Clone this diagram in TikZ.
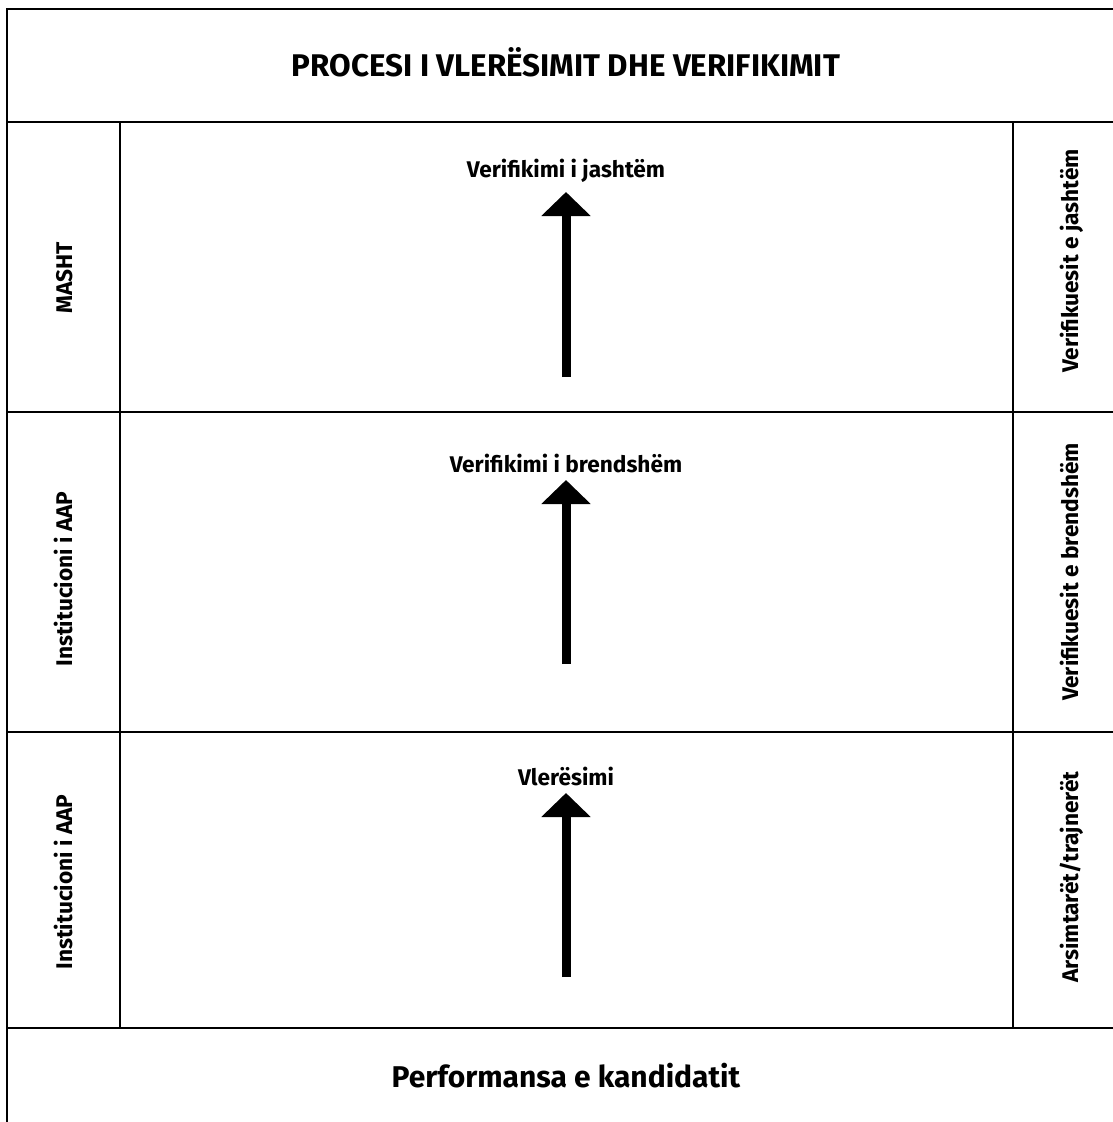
\documentclass[tikz,border=0pt]{standalone}
\usepackage{fontspec}
\setmainfont{Fira Sans}
\usetikzlibrary{arrows.meta}
\tikzstyle{frame} = [line width=1.3pt]
\tikzstyle{heading} = [font=\bfseries\fontsize{23.5}{28}\selectfont, anchor=base]
\tikzstyle{level} = [font=\bfseries\fontsize{17}{20}\selectfont, anchor=base]
\tikzstyle{side} = [font=\bfseries\fontsize{17}{20}\selectfont, anchor=base, rotate=90]
\tikzstyle{footer} = [font=\bfseries\fontsize{22.5}{27}\selectfont, anchor=base]
\tikzstyle{arrow} = [line width=6.75pt, -{Triangle[width=36pt,length=18pt]}]
\begin{document}
\begin{tikzpicture}[x=0.75pt, y=-0.75pt]
			\useasboundingbox (0,0) rectangle (1113,1122);
			% frame and grid
			\draw [frame] (1113,9) -- (7,9) -- (7,1122);
			\draw [frame] (7,122) -- (1113,122);
			\draw [frame] (7,412) -- (1113,412);
			\draw [frame] (7,732) -- (1113,732);
			\draw [frame] (7,1028) -- (1113,1028);
			\draw [frame] (120,122) -- (120,1028);
			\draw [frame] (1013,122) -- (1013,1028);
			% texts
			\node (title) [heading] at (566,76) {PROCESI I VLERËSIMIT DHE VERIFIKIMIT};
			\node (ext) [level] at (566,177) {Verifikimi i jashtëm};
			\node (int) [level] at (566,472) {Verifikimi i brendshëm};
			\node (assess) [level] at (566,785) {Vlerësimi};
			\node (perf) [footer] at (566,1087) {Performansa e kandidatit};
			\node (masht) [side] at (72,278) {MASHT};
			\node (inst1) [side] at (72,579) {Institucioni i AAP};
			\node (inst2) [side] at (72,882) {Institucioni i AAP};
			\node (verext) [side] at (1078,261) {Verifikuesit e jashtëm};
			\node (verint) [side] at (1078,572) {Verifikuesit e brendshëm};
			\node (teach) [side] at (1078,877) {Arsimtarët/trajnerët};
			% arrows
			\coordinate (extfoot) at (566,377);
			\coordinate (exttip) at (566,192);
			\coordinate (intfoot) at (566,664);
			\coordinate (inttip) at (566,480);
			\coordinate (assessfoot) at (566,977);
			\coordinate (assesstip) at (566,793);
			\draw [arrow] (extfoot) -- (exttip);
			\draw [arrow] (intfoot) -- (inttip);
			\draw [arrow] (assessfoot) -- (assesstip);
		\end{tikzpicture}
\end{document}
